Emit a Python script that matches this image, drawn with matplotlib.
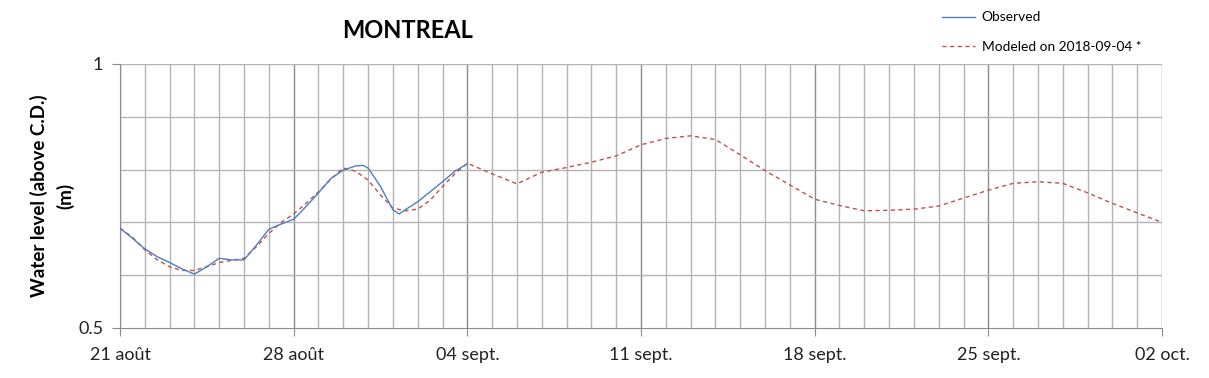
import matplotlib
matplotlib.use("Agg")
import matplotlib.pyplot as plt
import numpy as np
from matplotlib.ticker import MultipleLocator, FixedLocator

# Days since 21 Aug 2018
obs_days = [0, 0.5, 1, 1.5, 2, 2.5, 3, 3.5, 4, 4.5, 5, 5.5, 6, 6.5, 7,
            7.5, 8, 8.5, 9, 9.5, 9.8, 10, 10.5, 11, 11.25, 11.5, 12, 12.5, 13, 13.5, 14]
obs_vals = [0.689, 0.670, 0.650, 0.635, 0.624, 0.612, 0.602, 0.616, 0.632, 0.629, 0.629,
            0.657, 0.687, 0.697, 0.706, 0.730, 0.756, 0.783, 0.799, 0.807, 0.808, 0.803,
            0.768, 0.724, 0.716, 0.724, 0.739, 0.758, 0.777, 0.797, 0.811]

mod_days = [0, 0.5, 1, 1.5, 2, 2.5, 3, 3.5, 4, 4.5, 5, 5.5, 6, 6.5, 7,
            7.5, 8, 8.5, 9, 9.5, 10, 10.5, 11, 11.5, 12, 12.5, 13, 13.5, 14,
            15, 16, 17, 18, 19, 20, 21, 22, 23, 24, 25, 26, 27, 28, 29,
            30, 31, 32, 33, 34, 35, 36, 37, 38, 39, 40, 41, 42]
mod_vals = [0.689, 0.672, 0.648, 0.629, 0.616, 0.609, 0.609, 0.616, 0.624, 0.628, 0.632,
            0.654, 0.679, 0.700, 0.716, 0.736, 0.758, 0.782, 0.803, 0.797, 0.780, 0.752,
            0.727, 0.722, 0.725, 0.742, 0.768, 0.792, 0.812,
            0.792, 0.773, 0.795, 0.804, 0.814, 0.826, 0.847, 0.859, 0.864, 0.857, 0.828,
            0.798, 0.771, 0.744, 0.732,
            0.722, 0.723, 0.725, 0.731, 0.746, 0.761, 0.774, 0.777, 0.774, 0.756, 0.736,
            0.718, 0.700]

tick_days = [0, 7, 14, 21, 28, 35, 42]
tick_labels = ["21 août", "28 août", "04 sept.", "11 sept.", "18 sept.", "25 sept.", "02 oct."]

W, H = 1209, 378
fig = plt.figure(figsize=(W / 100, H / 100), dpi=100)
ax = fig.add_axes([120 / W, 50 / H, (1162 - 120) / W, (328 - 64) / H])

light = "#B4B4B4"
dark = "#8C8C8C"

# grid
for d in range(0, 43):
    c = dark if d % 7 == 0 else light
    ax.axvline(d, color=c, lw=1.0, zorder=1)
for v in [0.6, 0.7, 0.8, 0.9, 1.0]:
    ax.axhline(v, color=light, lw=1.0, zorder=1)

ax.plot(obs_days, obs_vals, color="#4A7EC7", lw=1.0, label="Observed", zorder=3)
ax.plot(mod_days, mod_vals, color="#C0504D", lw=1.0, ls=(0, (3, 2.5)),
        label="Modeled on 2018-09-04 *", zorder=2)

ax.set_xlim(0, 42)
ax.set_ylim(0.5, 1.0)
ax.xaxis.set_major_locator(FixedLocator(tick_days))
ax.set_xticklabels(tick_labels)
ax.yaxis.set_major_locator(FixedLocator([0.5, 1.0]))
ax.set_yticklabels(["0.5", "1"])

for s in ["top", "right"]:
    ax.spines[s].set_visible(False)
ax.spines["left"].set_color(dark)
ax.spines["bottom"].set_color(dark)
ax.tick_params(axis="x", direction="out", length=6, color=dark, pad=8,
               labelsize=13, labelcolor="#222222")
ax.tick_params(axis="y", direction="out", length=6, color=dark, pad=6,
               labelsize=13, labelcolor="#222222")
for lab in ax.get_xticklabels() + ax.get_yticklabels():
    lab.set_family("Lato")

ax.set_ylabel("Water level (above C.D.)\n(m)", fontsize=13.5, fontweight="bold",
              family="Lato", labelpad=3, linespacing=1.5)

fig.text(408 / W, 1 - 30 / H, "MONTREAL", ha="center", va="center",
         fontsize=17, fontweight="bold", family="Lato")

leg = fig.legend(loc="upper left", bbox_to_anchor=(930 / W, 1 + 1 / H), frameon=False,
                 prop={"family": "Lato", "size": 9.9}, handlelength=2.4,
                 handletextpad=0.45, labelspacing=1.3)

fig.savefig("out.png", dpi=100)
